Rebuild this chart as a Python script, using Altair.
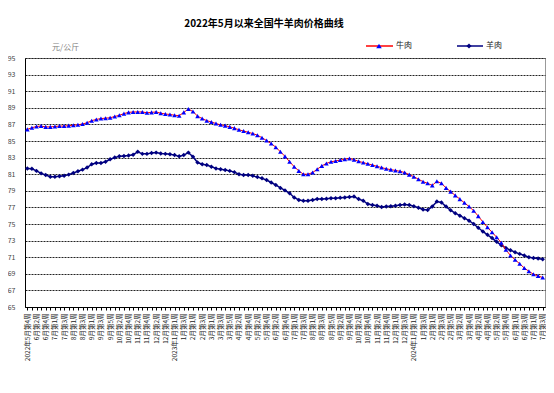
import altair as alt
import pandas as pd
import json

# week periods: (year, month, first week, last week)
periods = [
    (2022, 5, 4, 4), (2022, 6, 1, 5), (2022, 7, 1, 4), (2022, 8, 1, 4), (2022, 9, 1, 5),
    (2022, 10, 1, 4), (2022, 11, 1, 4), (2022, 12, 1, 5),
    (2023, 1, 1, 4), (2023, 2, 1, 4), (2023, 3, 1, 5), (2023, 4, 1, 4), (2023, 5, 1, 4),
    (2023, 6, 1, 5), (2023, 7, 1, 4), (2023, 8, 1, 5), (2023, 9, 1, 4), (2023, 10, 1, 4),
    (2023, 11, 1, 5), (2023, 12, 1, 4),
    (2024, 1, 1, 4), (2024, 2, 1, 5), (2024, 3, 1, 4), (2024, 4, 1, 4), (2024, 5, 1, 5),
    (2024, 6, 1, 4), (2024, 7, 1, 3),
]
week_labels = []
_years = set()
for yr, m, w0, w1 in periods:
    for w in range(w0, w1 + 1):
        if yr not in _years:
            week_labels.append(f"{yr}年{m}月第{w}周")
            _years.add(yr)
        else:
            week_labels.append(f"{m}月第{w}周")

beef = [
    86.4, 86.6, 86.75, 86.8, 86.7, 86.7, 86.75, 86.8, 86.8, 86.85,
    86.9, 86.95, 87.05, 87.2, 87.45, 87.6, 87.7, 87.75, 87.8, 87.95,
    88.1, 88.3, 88.45, 88.5, 88.5, 88.5, 88.4, 88.45, 88.5, 88.35,
    88.25, 88.2, 88.1, 88.05, 88.45, 88.85, 88.55, 88.0, 87.7, 87.45,
    87.3, 87.1, 86.95, 86.85, 86.7, 86.55, 86.35, 86.2, 86.05, 85.9,
    85.7, 85.4, 85.05, 84.7, 84.25, 83.7, 83.15, 82.5, 81.9, 81.4,
    81.0, 81.0, 81.2, 81.6, 82.0, 82.3, 82.5, 82.6, 82.7, 82.8,
    82.9, 82.75, 82.55, 82.4, 82.25, 82.1, 81.95, 81.8, 81.65, 81.55,
    81.45, 81.35, 81.2, 80.95, 80.7, 80.4, 80.1, 79.9, 79.65, 80.15,
    79.9, 79.35, 78.9, 78.45, 78.0, 77.55, 77.1, 76.6, 75.95, 75.25,
    74.6, 74.0, 73.4, 72.75, 71.9, 71.2, 70.7, 70.2, 69.7, 69.3,
    68.95, 68.75, 68.55,
]
mutton = [
    81.7, 81.65, 81.4, 81.1, 80.9, 80.7, 80.7, 80.75, 80.8, 80.95,
    81.15, 81.35, 81.55, 81.8, 82.2, 82.35, 82.35, 82.5, 82.8, 83.0,
    83.15, 83.2, 83.25, 83.35, 83.7, 83.45, 83.45, 83.55, 83.6, 83.5,
    83.45, 83.4, 83.3, 83.15, 83.3, 83.6, 83.1, 82.4, 82.2, 82.1,
    81.9, 81.7, 81.6, 81.5, 81.4, 81.25, 81.0, 80.9, 80.9, 80.8,
    80.65, 80.5, 80.3, 80.0, 79.7, 79.35, 79.05, 78.7, 78.2, 77.9,
    77.8, 77.8, 77.9, 78.0, 78.0, 78.05, 78.1, 78.1, 78.15, 78.2,
    78.25, 78.3, 78.0, 77.8, 77.4, 77.3, 77.2, 77.05, 77.1, 77.15,
    77.2, 77.3, 77.35, 77.3, 77.15, 76.95, 76.75, 76.7, 77.1, 77.7,
    77.6, 77.1, 76.65, 76.3, 76.0, 75.7, 75.4, 75.0, 74.55, 74.1,
    73.7, 73.3, 72.85, 72.45, 72.1, 71.85, 71.6, 71.4, 71.2, 71.0,
    70.9, 70.85, 70.75,
]
series_names = ["牛肉", "羊肉"]
y_ticks = list(range(65, 96, 2))

n = len(week_labels)
df = pd.DataFrame({"idx": list(range(n)), "week": week_labels, "beef": beef, "mutton": mutton})

FONT = "Noto Sans CJK SC"
label_expr = f"datum.value % 2 == 0 ? {json.dumps(week_labels, ensure_ascii=False)}[datum.value] : ''"

x_enc = alt.X(
    "idx:Q",
    scale=alt.Scale(domain=[-0.5, n - 0.5], nice=False, zero=False),
    axis=alt.Axis(
        title=None, values=list(range(n)), tickCount=500, labelExpr=label_expr, labelAngle=270,
        labelOverlap=False, labelFlush=False, labelBound=False, labelFontSize=6.5,
        labelFont=FONT, labelColor="#222", labelPadding=3, tickSize=3, tickColor="#000",
        domainColor="#000", grid=False,
    ),
)
y_scale = alt.Scale(domain=[65, 95], nice=False, zero=False)
y_axis = alt.Axis(
    title=None, values=y_ticks, tickCount=100, format="d", labelOverlap=False, ticks=False,
    labelFontSize=7, labelFont=FONT, labelColor="#444", labelPadding=10,
    domainColor="#000", grid=True, gridColor="#222", gridDash=[2, 1], gridWidth=1,
    gridOpacity=1,
)

base = alt.Chart(df)
mut_line = base.mark_line(color="#000080", strokeWidth=1.5).encode(
    x=x_enc, y=alt.Y("mutton:Q", scale=y_scale, axis=y_axis))
mut_pts = base.mark_point(shape="diamond", filled=True, color="#000080", size=20, opacity=1).encode(
    x="idx:Q", y="mutton:Q")
beef_line = base.mark_line(color="#FF0000", strokeWidth=1).encode(x="idx:Q", y="beef:Q")
beef_pts = base.mark_point(shape="triangle-up", filled=True, color="#0000FF", size=22, opacity=1).encode(
    x="idx:Q", y="beef:Q")

one = alt.Chart(pd.DataFrame({"name": series_names}))
leg_beef_line = one.transform_filter("datum.name == '牛肉'").mark_rule(color="#FF0000", strokeWidth=1.5).encode(
    x=alt.value(341), x2=alt.value(368), y=alt.value(-12))
leg_beef_pt = one.transform_filter("datum.name == '牛肉'").mark_point(
    shape="triangle-up", filled=True, color="#0000FF", size=30, opacity=1).encode(
    x=alt.value(354), y=alt.value(-12))
leg_beef_txt = one.transform_filter("datum.name == '牛肉'").mark_text(
    align="left", baseline="middle", font=FONT, fontSize=8, color="#222").encode(
    x=alt.value(371), y=alt.value(-12), text="name:N")
leg_mut_line = one.transform_filter("datum.name == '羊肉'").mark_rule(color="#000080", strokeWidth=1.5).encode(
    x=alt.value(432), x2=alt.value(458), y=alt.value(-12))
leg_mut_pt = one.transform_filter("datum.name == '羊肉'").mark_point(
    shape="diamond", filled=True, color="#000080", size=26, opacity=1).encode(
    x=alt.value(444), y=alt.value(-12))
leg_mut_txt = one.transform_filter("datum.name == '羊肉'").mark_text(
    align="left", baseline="middle", font=FONT, fontSize=8, color="#222").encode(
    x=alt.value(461), y=alt.value(-12), text="name:N")

unit = alt.Chart(pd.DataFrame({"t": ["元/公斤"]})).mark_text(
    align="left", baseline="middle", font=FONT, fontSize=8, color="#808080").encode(
    x=alt.value(27), y=alt.value(-10), text="t:N")

chart = alt.layer(
    mut_line, mut_pts, beef_line, beef_pts,
    leg_beef_line, leg_beef_pt, leg_beef_txt, leg_mut_line, leg_mut_pt, leg_mut_txt, unit,
).properties(
    width=520, height=249,
    title=alt.TitleParams(
        "2022年5月以来全国牛羊肉价格曲线", font=FONT, fontSize=10, fontWeight="bold",
        color="#000", anchor="middle", frame="group", dx=-21, offset=3, baseline="bottom",
    ),
    autosize=alt.AutoSizeParams(type="none"),
    padding={"left": 17, "top": 50, "right": 1, "bottom": 78},
    background="white",
).configure_view(
    stroke="#333", strokeDash=[1, 1], strokeWidth=1,
)

chart.save("out.html", embed_options={"renderer": "svg", "actions": False})
